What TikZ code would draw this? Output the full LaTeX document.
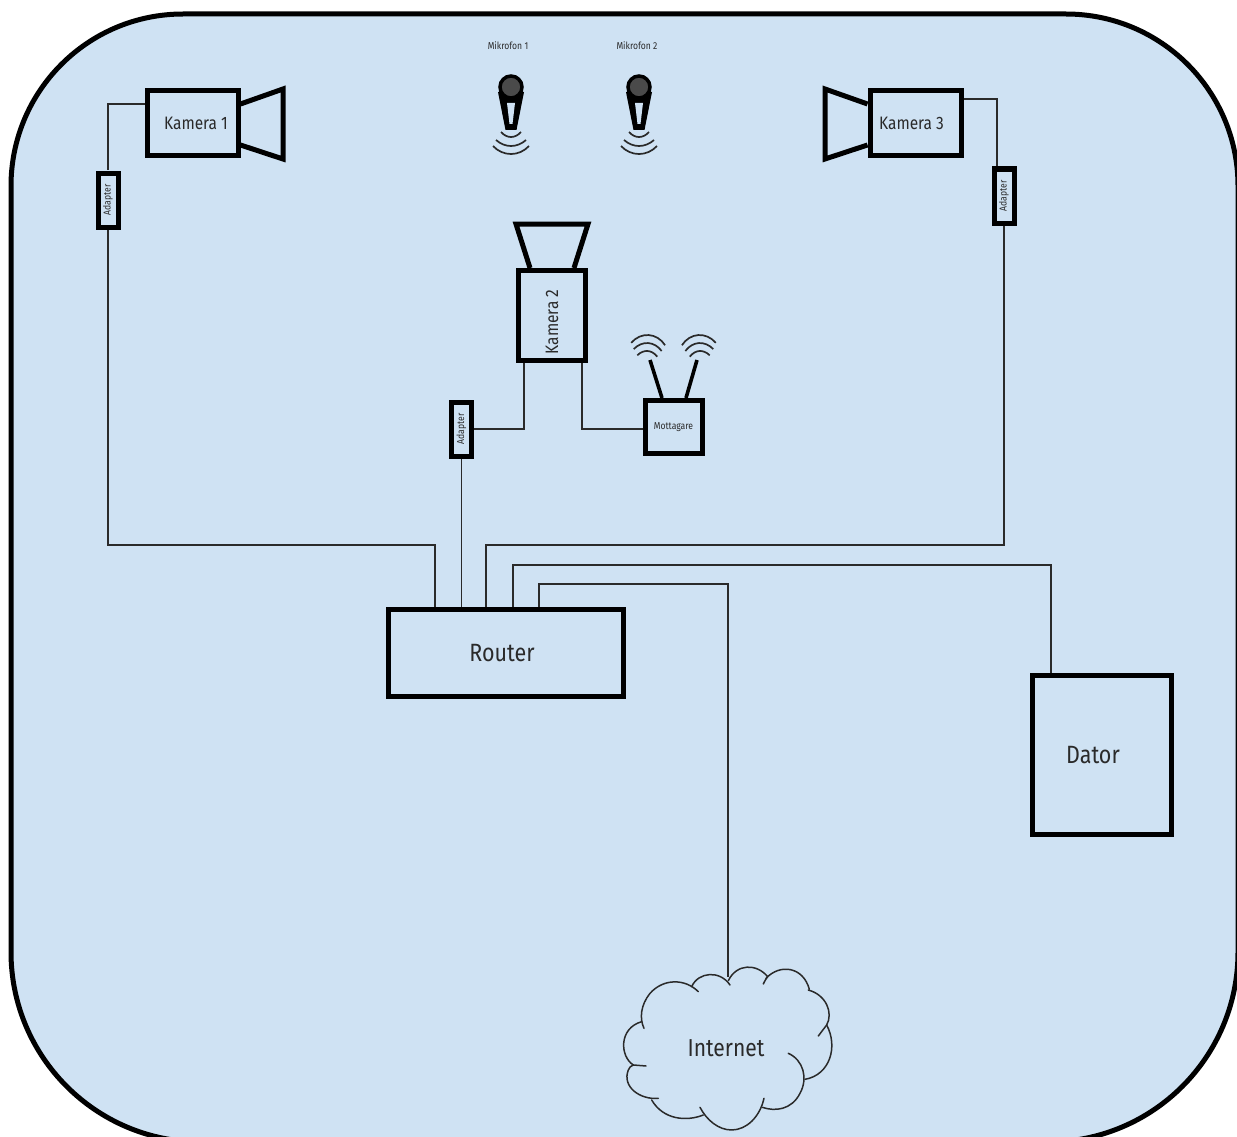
\documentclass[tikz,border=0pt]{standalone}
\usepackage{fontspec}
\setmainfont[FakeStretch=0.86]{Fira Sans}
\definecolor{bg}{HTML}{CFE2F3}
\definecolor{ink}{HTML}{2A2A2A}
\tikzset{
  box/.style={draw=black,line width=5pt,text=ink,inner sep=0pt,fill=none},
  adapter/.style={draw=black,line width=5pt,inner sep=0pt,minimum width=20pt,minimum height=54pt},
  tiny/.style={text=ink,inner sep=0pt,font=\fontsize{10}{10}\selectfont},
  lens/.style={draw=black,line width=5pt,line join=miter},
  wire/.style={draw=ink,line width=1.6pt},
  ant/.style={draw=black,line width=3.6pt},
  wave/.style={draw=ink,line width=1.7pt},
  cloudline/.style={draw=ink,line width=1.5pt},
  mid/.style={text=ink,inner sep=0pt,font=\fontsize{18}{18}\selectfont},
  big/.style={text=ink,inner sep=0pt,font=\fontsize{25}{25}\selectfont}
}
\newcommand{\wifi}[3]{%
  \begin{scope}[shift={(#1,#2)},rotate=#3]
    \draw[wave] (-10,-4) .. controls (-4,-10.7) and (4,-10.7) .. (10,-4);
    \draw[wave] (-14,-10) .. controls (-6,-19.3) and (6,-19.3) .. (14,-10);
    \draw[wave] (-17,-16) .. controls (-8,-28) and (8,-28) .. (17,-16);
  \end{scope}}
\newcommand{\micro}[2]{%
  \begin{scope}[shift={(#1,#2)}]
    \fill[black] (-13,5) -- (-5.5,43) -- (5.5,43) -- (13,5) -- cycle;
    \fill[bg] (-4,16) -- (-1.5,37) -- (1.5,37) -- (4,16) -- cycle;
    \filldraw[draw=black,line width=3.5pt,fill=ink!85!white] (0,0) circle (11);
    \draw[wave] (-10,45) .. controls (-4,51.7) and (4,51.7) .. (10,45);
    \draw[wave] (-15,53) .. controls (-6,61) and (6,61) .. (15,53);
    \draw[wave] (-18,59) .. controls (-8,69.7) and (8,69.7) .. (18,59);
  \end{scope}}
\begin{document}
\begin{tikzpicture}[x=1pt,y=-1pt]
\useasboundingbox (0,0) rectangle (1237,1137);
\begin{scope}
\clip (0,0) rectangle (1237,1137);
\fill[white] (0,0) rectangle (1237,1137);
\draw[line width=5pt,fill=bg] (11,600) [rounded corners=172pt] -- (11,14) -- (1238,14) -- (1238,600) [rounded corners=190pt] -- (1238,1142) -- (11,1142) -- (11,600) [sharp corners] -- cycle;
\end{scope}

\node[box,minimum width=91pt,minimum height=65pt] (kam1) at (192.5,123.5) {};
\node[mid] (kam1t) at (196,123) {Kamera 1};
\node[box,minimum width=91pt,minimum height=65pt] (kam3) at (915.5,123.5) {};
\node[mid] (kam3t) at (911.5,123) {Kamera 3};
\node[box,minimum width=67pt,minimum height=90pt] (kam2) at (552,315.5) {};
\node[mid,rotate=90] (kam2t) at (552,322) {Kamera 2};
\node[adapter] (ad1) at (108,200) {};
\node[tiny,rotate=90] (ad1t) at (108,200) {Adapter};
\node[adapter] (ad2) at (461.5,429) {};
\node[tiny,rotate=90] (ad2t) at (461.5,429) {Adapter};
\node[adapter] (ad3) at (1004,196) {};
\node[tiny,rotate=90] (ad3t) at (1004,196) {Adapter};
\node[box,minimum width=57pt,minimum height=53pt,tiny] (mott) at (673.5,427) {Mottagare};
\node[box,minimum width=235pt,minimum height=87pt] (router) at (506,653) {};
\node[big] (routert) at (502,653) {Router};
\node[box,minimum width=139pt,minimum height=159pt] (dator) at (1102,755) {};
\node[big] (datort) at (1093,755) {Dator};
\node[tiny] (mik1) at (508,46) {Mikrofon 1};
\node[tiny] (mik2) at (637,46) {Mikrofon 2};
\node[big,font=\fontsize{24.5}{24.5}\selectfont] (net) at (726,1048) {Internet};
\coordinate (cloudtop) at (728,977);

\draw[wire] (kam1.west |- 0,104) -| (ad1.north);
\draw[wire] (ad1.south) |- (435,545) -- (435,0 |- router.north);
\draw[wire] (ad2.south) -- (ad2.south |- router.north);
\draw[wire] ([xshift=8pt]kam2.south west) |- (ad2.east);
\draw[wire] ([xshift=-6pt]kam2.south east) |- ([yshift=-2pt]mott.west);
\draw[wire] (kam3.east |- 0,99) -| (997,0 |- ad3.north);
\draw[wire] (ad3.south) |- (486,545) -- (486,0 |- router.north);
\draw[wire] (513,0 |- router.north) |- (1051,565) -- (1051,0 |- dator.north);
\draw[wire] (539,0 |- router.north) |- (728,584) -- (cloudtop);

\draw[lens] (kam1.east |- 0,104) -- (283,89) -- (283,159) -- (kam1.east |- 0,145);
\draw[lens] (kam3.west |- 0,104) -- (825,89) -- (825,159) -- (kam3.west |- 0,145);
\draw[lens] (530,0 |- kam2.north) -- (516,224) -- (588,224) -- (574,0 |- kam2.north);

\draw[ant] (662,0 |- mott.north) -- (650,360);
\draw[ant] (686,0 |- mott.north) -- (697,360);
\wifi{647}{360}{-4}
\wifi{700}{360}{4}

\micro{511}{87}
\micro{639}{87}

\begin{scope}[shift={(600,950)},x=0.3333pt,y=-0.3333pt]
\draw[cloudline,line cap=round]
  (132,235) .. controls (118,205) and (122,165) .. (150,130) .. controls (190,85) and (255,85) .. (295,125);
\draw[cloudline,line cap=round]
  (275,110) .. controls (295,65) and (360,60) .. (390,105);
\draw[cloudline,line cap=round]
  (385,92) .. controls (410,40) and (470,40) .. (503,80) (490,102) .. controls (495,92) and (498,86) .. (503,80);
\draw[cloudline,line cap=round]
  (498,85) .. controls (540,40) and (610,50) .. (628,118);
\draw[cloudline,line cap=round]
  (625,120) .. controls (680,135) and (700,190) .. (680,225) -- (655,258);
\draw[cloudline,line cap=round]
  (680,225) .. controls (715,290) and (690,375) .. (615,388);
\draw[cloudline,line cap=round]
  (565,310) .. controls (610,330) and (625,385) .. (600,430) .. controls (575,480) and (525,485) .. (487,472);
\draw[cloudline,line cap=round]
  (492,445) .. controls (480,500) and (440,540) .. (395,540) .. controls (355,540) and (320,510) .. (300,472);
\draw[cloudline,line cap=round]
  (310,495) .. controls (260,515) and (190,510) .. (155,450);
\draw[cloudline,line cap=round]
  (175,445) .. controls (120,450) and (65,410) .. (85,360) .. controls (88,352) and (92,348) .. (100,345) -- (138,348);
\draw[cloudline,line cap=round]
  (100,345) .. controls (60,320) and (55,235) .. (125,215);
\end{scope}
\end{tikzpicture}
\end{document}
